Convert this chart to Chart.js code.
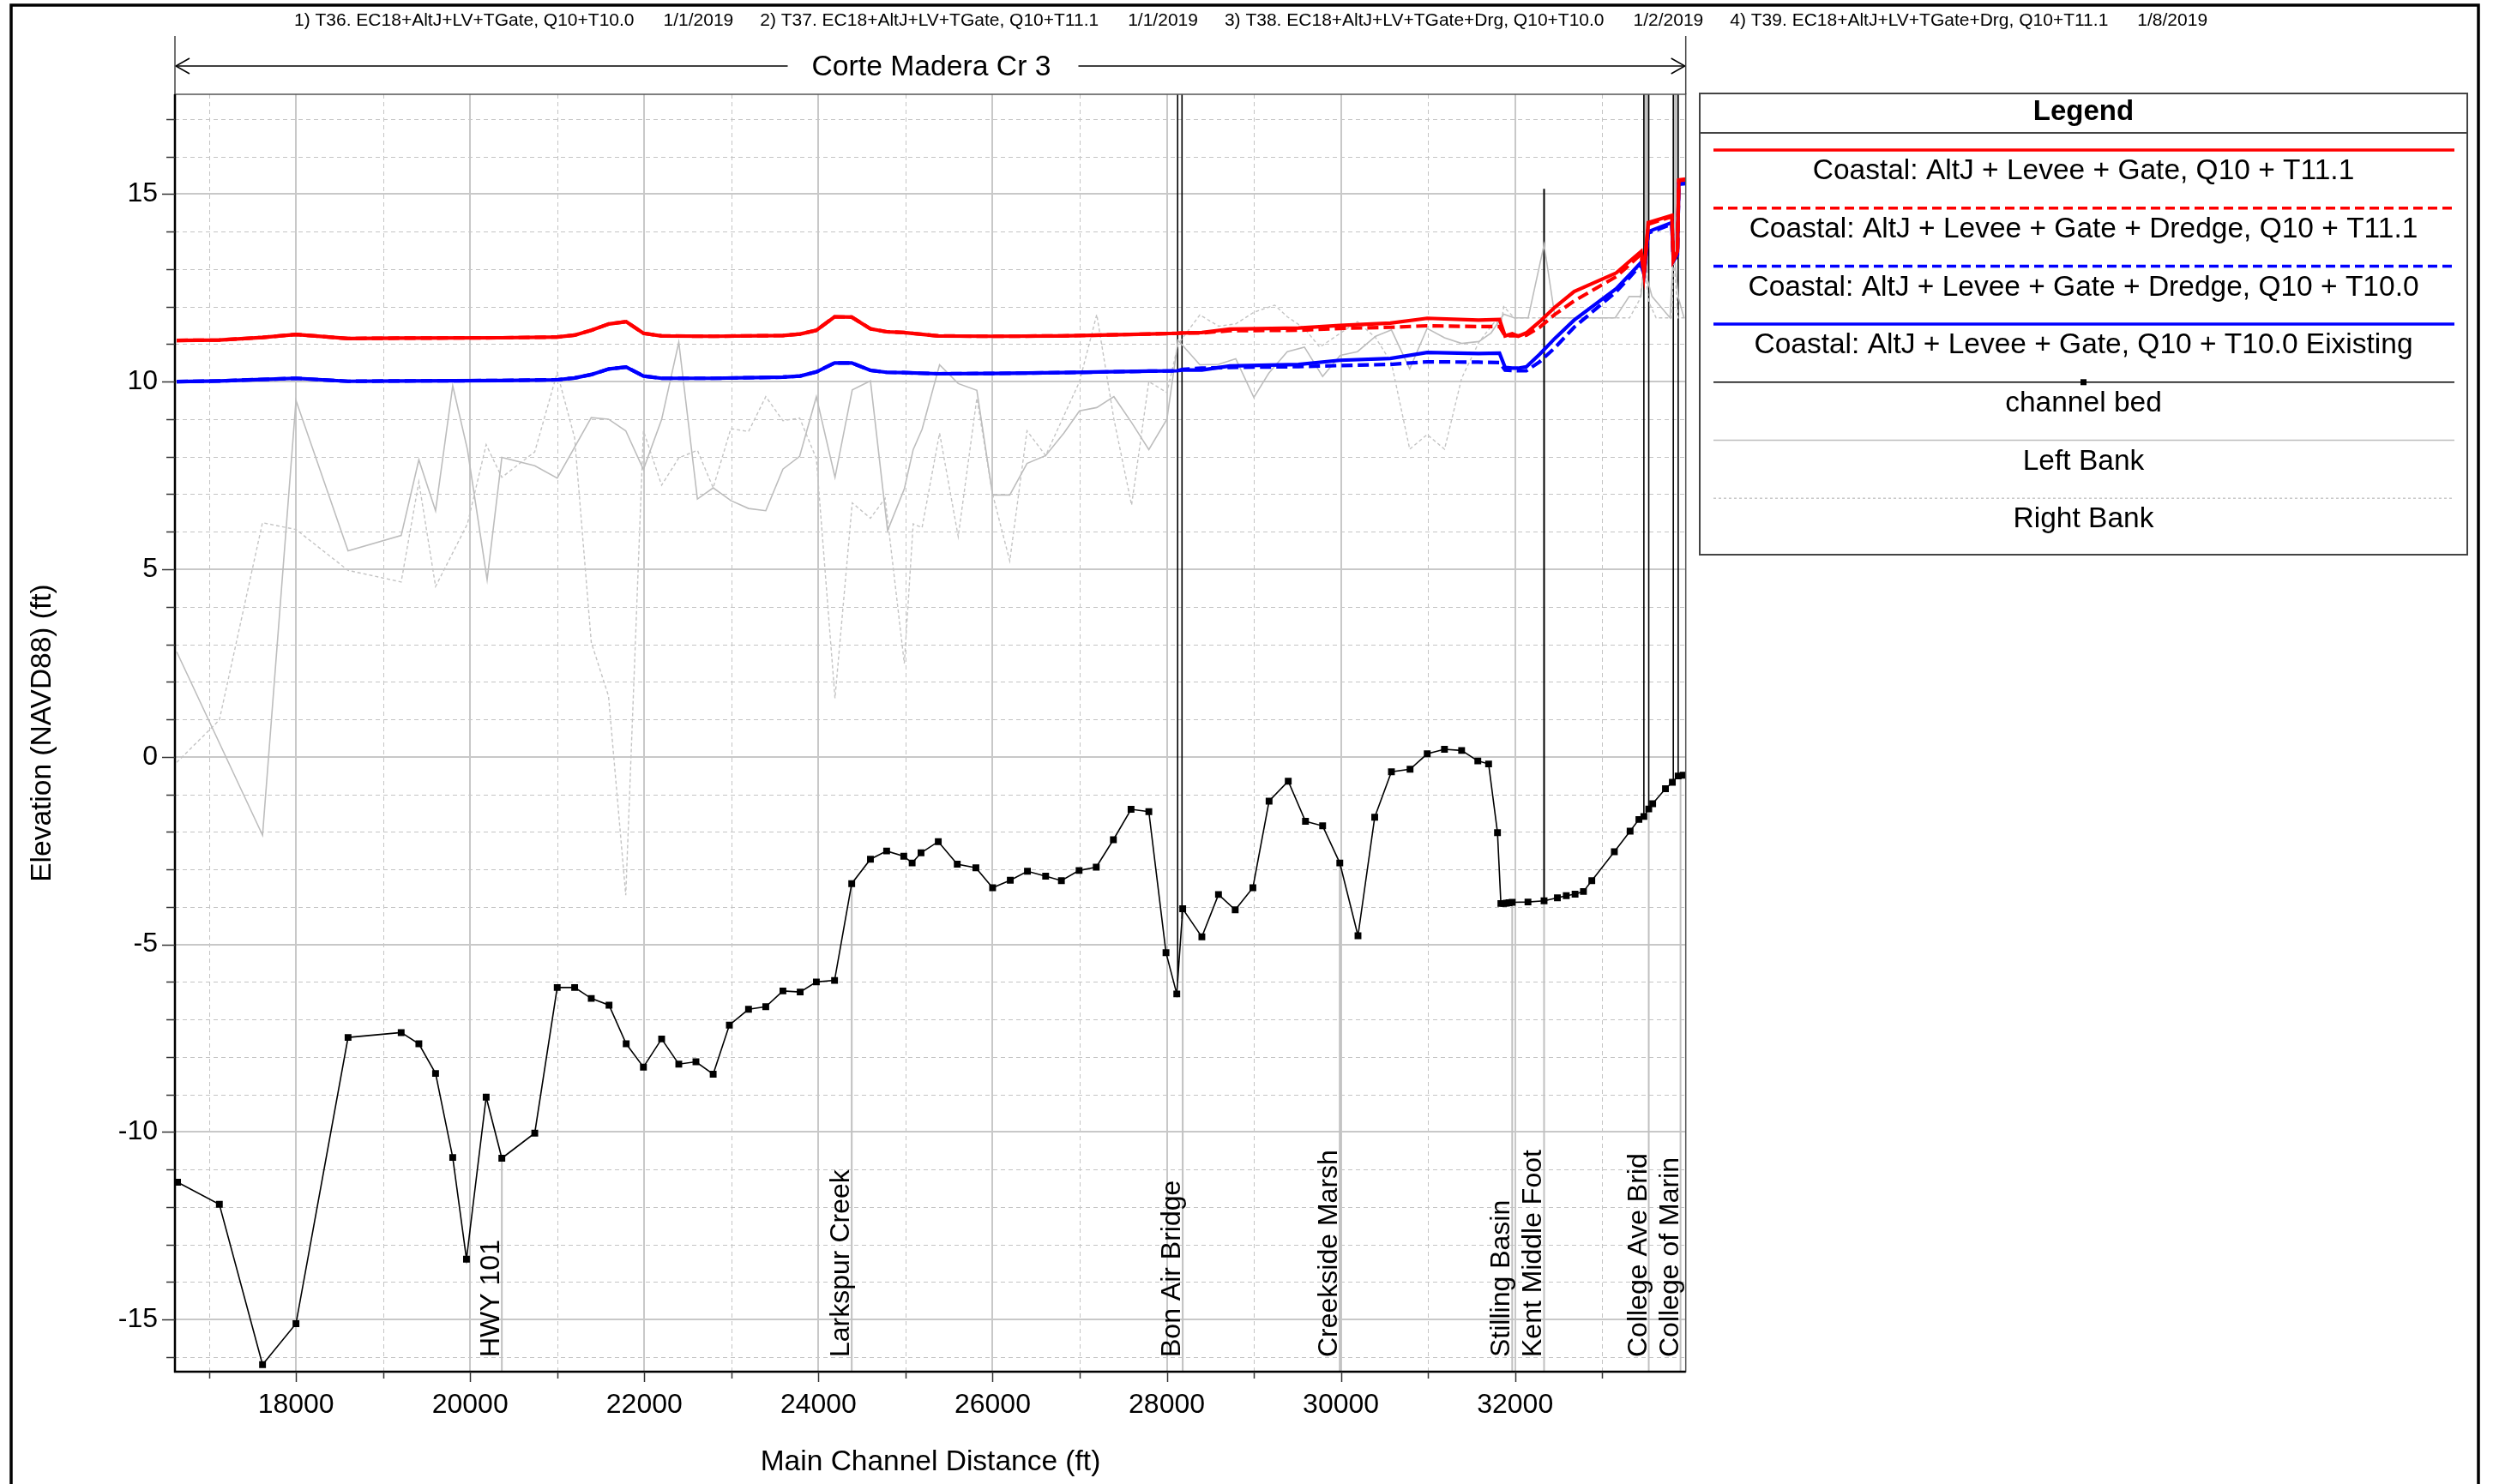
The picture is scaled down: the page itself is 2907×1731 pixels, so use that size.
<!DOCTYPE html>
<html>
<head>
<meta charset="utf-8">
<script src="https://cdn.jsdelivr.net/npm/chart.js@4.4.1/dist/chart.umd.min.js"></script>
<style>
  html, body { margin: 0; padding: 0; background: #ffffff; }
  #wrap { width: 2907px; height: 1731px; position: relative; }
</style>
</head>
<body>
<div id="wrap"><canvas id="profile" width="2907" height="1731"></canvas></div>
<script>
const FONT = '"Liberation Sans", Arial, Helvetica, sans-serif';

// ---- Water surface profiles (main channel distance in ft, elevation in ft NAVD88) ----
const wseStations = [16630, 17120, 17616, 18000, 18598, 19208, 20364, 21000, 21200, 21391,
  21595, 21792, 21990, 22199, 22791, 23592, 23790, 23976, 24185, 24382,
  24597, 24783, 24980, 25376, 26000, 26790, 27794, 28115, 28183, 28403,
  28724, 29512, 29987, 30567, 30991, 31580, 31821, 31885, 31967, 32035,
  32130, 32282, 32455, 32678, 33162, 33315, 33447, 33480, 33530, 33800,
  33818, 33865, 33880, 33960];
const wseT111 = [11.10, 11.11, 11.18, 11.26, 11.15, 11.16, 11.17, 11.19, 11.24, 11.37,
  11.54, 11.60, 11.29, 11.22, 11.21, 11.23, 11.27, 11.37, 11.73, 11.72,
  11.41, 11.33, 11.31, 11.22, 11.21, 11.22, 11.27, 11.29, 11.30, 11.31,
  11.40, 11.43, 11.50, 11.56, 11.69, 11.64, 11.66, 11.22, 11.28, 11.21,
  11.30, 11.60, 11.98, 12.40, 12.90, 13.21, 13.47, 12.88, 14.24, 14.43,
  13.24, 13.47, 15.38, 15.40];
const wseT111Dredge = [11.10, 11.11, 11.18, 11.26, 11.15, 11.16, 11.17, 11.19, 11.24, 11.37,
  11.54, 11.60, 11.29, 11.22, 11.21, 11.23, 11.27, 11.37, 11.73, 11.72,
  11.41, 11.33, 11.31, 11.22, 11.21, 11.22, 11.27, 11.29, 11.30, 11.30,
  11.36, 11.37, 11.42, 11.45, 11.49, 11.47, 11.47, 11.22, 11.23, 11.22,
  11.24, 11.45, 11.79, 12.15, 12.80, 13.12, 13.40, 12.88, 14.20, 14.40,
  13.24, 13.45, 15.36, 15.38];
const wseT100Dredge = [10.00, 10.02, 10.06, 10.09, 10.01, 10.02, 10.03, 10.05, 10.10, 10.19,
  10.34, 10.39, 10.15, 10.09, 10.09, 10.12, 10.15, 10.26, 10.50, 10.50,
  10.30, 10.25, 10.24, 10.21, 10.22, 10.24, 10.28, 10.29, 10.33, 10.36,
  10.38, 10.40, 10.43, 10.46, 10.53, 10.52, 10.51, 10.31, 10.30, 10.29,
  10.29, 10.53, 10.90, 11.45, 12.40, 12.78, 13.13, 12.86, 13.96, 14.20,
  13.22, 13.38, 15.26, 15.28];
const wseT100 = [10.00, 10.02, 10.06, 10.09, 10.01, 10.02, 10.03, 10.05, 10.10, 10.19,
  10.34, 10.39, 10.15, 10.09, 10.09, 10.12, 10.15, 10.26, 10.50, 10.50,
  10.30, 10.25, 10.24, 10.21, 10.22, 10.24, 10.28, 10.29, 10.31, 10.31,
  10.42, 10.46, 10.57, 10.62, 10.78, 10.75, 10.76, 10.38, 10.36, 10.36,
  10.40, 10.73, 11.15, 11.64, 12.48, 12.85, 13.18, 12.86, 14.00, 14.24,
  13.22, 13.40, 15.28, 15.30];

// ---- Channel bed (minimum channel elevation at each cross section) ----
const bedStations = [16640, 17120, 17616, 18000, 18598, 19208, 19411, 19603, 19800, 19958,
  20184, 20364, 20742, 21000, 21200, 21391, 21595, 21792, 21990, 22199,
  22396, 22593, 22791, 22977, 23197, 23395, 23592, 23790, 23976, 24185,
  24382, 24597, 24783, 24980, 25076, 25178, 25376, 25594, 25808, 26000,
  26203, 26400, 26609, 26790, 26993, 27190, 27387, 27590, 27794, 27991,
  28115, 28183, 28403, 28594, 28786, 28989, 29175, 29395, 29593, 29790,
  29987, 30196, 30388, 30580, 30794, 30991, 31189, 31386, 31572, 31696,
  31798, 31837, 31870, 31900, 31930, 31967, 32148, 32333, 32486, 32588,
  32689, 32785, 32881, 33140, 33321, 33422, 33479, 33535, 33580, 33727,
  33806, 33873, 33930];
const bedElev = [-11.34, -11.93, -16.20, -15.11, -7.48, -7.35, -7.65, -8.44, -10.68, -13.39,
  -9.07, -10.70, -10.03, -6.15, -6.15, -6.44, -6.62, -7.65, -8.27, -7.52,
  -8.19, -8.13, -8.46, -7.15, -6.73, -6.66, -6.24, -6.27, -6.00, -5.96,
  -3.38, -2.73, -2.51, -2.65, -2.83, -2.56, -2.26, -2.86, -2.96, -3.49,
  -3.29, -3.05, -3.18, -3.30, -3.03, -2.94, -2.21, -1.40, -1.46, -5.22,
  -6.32, -4.05, -4.80, -3.67, -4.08, -3.49, -1.18, -0.65, -1.72, -1.84,
  -2.83, -4.77, -1.61, -0.40, -0.33, 0.08, 0.20, 0.17, -0.11, -0.19,
  -2.02, -3.91, -3.91, -3.90, -3.89, -3.88, -3.87, -3.84, -3.76, -3.70,
  -3.66, -3.59, -3.30, -2.53, -1.98, -1.67, -1.59, -1.39, -1.25, -0.85,
  -0.68, -0.51, -0.49];

// ---- Bank stations ----
const leftBankStations = [16630, 17616, 18000, 18598, 19208, 19411, 19603, 19800, 19969, 20195,
  20364, 20742, 21000, 21391, 21589, 21787, 21990, 22199, 22396, 22610,
  22791, 22994, 23197, 23395, 23592, 23784, 23976, 24190, 24388, 24597,
  24794, 24986, 25088, 25190, 25391, 25605, 25819, 26000, 26197, 26395,
  26609, 26818, 26998, 27196, 27393, 27596, 27794, 28002, 28130, 28380,
  28594, 28792, 29000, 29170, 29384, 29581, 29790, 29993, 30190, 30399,
  30580, 30790, 30990, 31190, 31386, 31584, 31725, 31870, 31990, 32150,
  32333, 32460, 33000, 33150, 33310, 33445, 33479, 33573, 33780, 33822,
  33872, 33940];
const leftBankElev = [2.80, -2.09, 9.50, 5.49, 5.90, 7.92, 6.56, 9.89, 8.19, 4.72,
  7.98, 7.76, 7.43, 9.04, 9.00, 8.69, 7.66, 8.99, 11.05, 6.87,
  7.17, 6.83, 6.62, 6.56, 7.67, 8.01, 9.60, 7.45, 9.78, 10.02,
  6.03, 7.14, 8.19, 8.73, 10.45, 9.95, 9.77, 6.98, 6.98, 7.82,
  8.03, 8.63, 9.22, 9.31, 9.60, 8.91, 8.19, 9.00, 11.10, 10.45,
  10.46, 10.61, 9.58, 10.22, 10.80, 10.92, 10.14, 10.70, 10.80, 11.21,
  11.38, 10.34, 11.42, 11.17, 11.02, 11.07, 11.30, 11.80, 11.70, 11.70,
  13.65, 11.70, 11.70, 11.70, 12.27, 12.27, 13.07, 12.27, 11.70, 13.64,
  12.27, 11.70];
const rightBankStations = [16630, 17120, 17615, 18000, 18598, 19208, 19411, 19603, 19969, 20184,
  20364, 20742, 21000, 21200, 21391, 21589, 21787, 21990, 22199, 22396,
  22610, 22791, 22994, 23197, 23395, 23592, 23784, 23976, 24190, 24388,
  24597, 24766, 24986, 25088, 25190, 25391, 25605, 25819, 26000, 26197,
  26395, 26609, 26998, 27196, 27393, 27596, 27794, 28002, 28130, 28380,
  28594, 28792, 29000, 29240, 29384, 29581, 29757, 29993, 30190, 30399,
  30580, 30790, 30990, 31190, 31386, 31584, 31780, 31830, 31870, 31990,
  33000, 33315, 33435, 33479, 33540, 33620, 33800, 33822, 33870, 33950];
const rightBankElev = [-0.15, 0.98, 6.24, 6.06, 4.97, 4.66, 7.33, 4.54, 6.21, 8.32,
  7.45, 8.13, 10.24, 8.50, 3.05, 1.62, -3.69, 8.69, 7.24, 7.97,
  8.17, 7.17, 8.75, 8.67, 9.60, 8.96, 9.03, 7.95, 1.56, 6.77,
  6.36, 6.89, 2.49, 6.21, 6.11, 8.63, 5.87, 9.56, 7.00, 5.22,
  8.69, 8.03, 10.00, 11.79, 9.00, 6.71, 10.00, 9.71, 11.00, 11.78,
  11.48, 11.54, 11.85, 12.04, 11.73, 11.42, 10.92, 11.29, 11.60, 11.17,
  10.50, 8.20, 8.59, 8.20, 10.09, 11.05, 11.64, 11.40, 12.00, 11.70,
  11.70, 11.70, 12.21, 13.10, 12.10, 11.70, 11.70, 13.40, 11.70, 11.70];

// ---- Axis ticks ----
const xTicks = [18000, 20000, 22000, 24000, 26000, 28000, 30000, 32000];
const yTicks = [-15, -10, -5, 0, 5, 10, 15];

// ---- Named locations along the reach ----
const locationNames = ['HWY 101', 'Larkspur Creek', 'Bon Air Bridge', 'Creekside Marsh',
  'Stilling Basin', 'Kent Middle Foot', 'College Ave Brid', 'College of Marin'];
const locationStations = [20364, 24382, 28183, 29987, 31967, 32333, 33535, 33900];

// ---- Structures: deck edges (ft) and low chord elevation (ft) ----
const bridgeNames = ['Bon Air Bridge', 'College Ave Brid', 'College of Marin'];
const bridgeUpstreamEdge = [28125, 33479, 33817];
const bridgeDownstreamEdge = [28175, 33535, 33873];
const bridgeLowChord = [null, 12.9, 13.25];
const footbridgeStation = 32333;
const footbridgeTop = 15.14;

// ---- Plan runs listed across the top ----
const planRuns = ['1) T36. EC18+AltJ+LV+TGate, Q10+T10.0', '2) T37. EC18+AltJ+LV+TGate, Q10+T11.1',
  '3) T38. EC18+AltJ+LV+TGate+Drg, Q10+T10.0', '4) T39. EC18+AltJ+LV+TGate+Drg, Q10+T11.1'];
const planDates = ['1/1/2019', '1/1/2019', '1/2/2019', '1/8/2019'];

const reachName = 'Corte Madera Cr 3';

function pairs(xs, ys) { return xs.map((x, i) => ({ x: x, y: ys[i] })); }

function bedAt(x) {
  if (x <= bedStations[0]) return bedElev[0];
  for (let i = 1; i < bedStations.length; i++) {
    if (x <= bedStations[i]) {
      const t = (x - bedStations[i - 1]) / (bedStations[i] - bedStations[i - 1]);
      return bedElev[i - 1] + t * (bedElev[i] - bedElev[i - 1]);
    }
  }
  return bedElev[bedElev.length - 1];
}

function seg(ctx, x1, y1, x2, y2) { ctx.beginPath(); ctx.moveTo(x1, y1); ctx.lineTo(x2, y2); ctx.stroke(); }

const profileDecor = {
  id: 'profileDecor',
  beforeDatasetsDraw(chart) {
    const { ctx, chartArea: a, scales: { x, y } } = chart;
    ctx.save();
    // minor grid (dashed)
    ctx.strokeStyle = '#c4c4c4';
    ctx.lineWidth = 1;
    ctx.setLineDash([5, 4]);
    for (let v = Math.ceil(y.min); v <= y.max; v++) {
      if (v % 5 === 0) continue;
      const py = Math.round(y.getPixelForValue(v)) + 0.5;
      seg(ctx, a.left, py, a.right, py);
    }
    for (let v = Math.ceil(x.min / 1000) * 1000; v <= x.max; v += 1000) {
      if (v % 2000 === 0) continue;
      const pxv = Math.round(x.getPixelForValue(v)) + 0.5;
      seg(ctx, pxv, a.top, pxv, a.bottom);
    }
    // major grid (solid)
    ctx.setLineDash([]);
    ctx.strokeStyle = '#c8c8c8';
    ctx.lineWidth = 2;
    yTicks.forEach(v => { const py = Math.round(y.getPixelForValue(v)); seg(ctx, a.left, py, a.right, py); });
    xTicks.forEach(v => { const pxv = Math.round(x.getPixelForValue(v)); seg(ctx, pxv, a.top, pxv, a.bottom); });

    ctx.save();
    ctx.beginPath(); ctx.rect(a.left, a.top, a.right - a.left, a.bottom - a.top); ctx.clip();
    // location lines from bed down to the axis
    ctx.strokeStyle = '#c0c0c0';
    ctx.lineWidth = 2;
    locationStations.forEach(s => {
      const pxv = x.getPixelForValue(s);
      seg(ctx, pxv, y.getPixelForValue(bedAt(s)), pxv, a.bottom);
    });
    // bridge decks and abutment lines
    for (let i = 0; i < bridgeNames.length; i++) {
      const x1 = x.getPixelForValue(bridgeUpstreamEdge[i]);
      const x2 = x.getPixelForValue(bridgeDownstreamEdge[i]);
      if (bridgeLowChord[i] !== null) {
        ctx.fillStyle = '#c0c0c0';
        const yl = y.getPixelForValue(bridgeLowChord[i]);
        ctx.fillRect(x1, a.top, x2 - x1, yl - a.top);
      }
      ctx.strokeStyle = '#000000';
      ctx.lineWidth = 1.6;
      seg(ctx, x1, a.top, x1, y.getPixelForValue(bedAt(bridgeUpstreamEdge[i])));
      seg(ctx, x2, a.top, x2, y.getPixelForValue(bedAt(bridgeDownstreamEdge[i])));
    }
    // footbridge
    ctx.strokeStyle = '#000000';
    ctx.lineWidth = 2;
    const fx = x.getPixelForValue(footbridgeStation);
    seg(ctx, fx, y.getPixelForValue(footbridgeTop), fx, y.getPixelForValue(bedAt(footbridgeStation)));
    ctx.restore();
    ctx.restore();
  },
  afterDatasetsDraw(chart) {
    const { ctx, chartArea: a, scales: { x, y } } = chart;
    ctx.save();
    // plot frame
    ctx.strokeStyle = '#555555';
    ctx.lineWidth = 1.5;
    ctx.strokeRect(a.left, a.top, a.right - a.left, a.bottom - a.top);
    ctx.strokeStyle = '#000000';
    ctx.lineWidth = 2.5;
    seg(ctx, a.left, a.top, a.left, a.bottom + 1);
    seg(ctx, a.left - 1, a.bottom, a.right, a.bottom);

    // tick marks
    ctx.strokeStyle = '#333333';
    ctx.lineWidth = 1.5;
    for (let v = Math.ceil(y.min); v <= y.max; v++) {
      const py = Math.round(y.getPixelForValue(v)) + 0.5;
      seg(ctx, a.left - (v % 5 === 0 ? 15 : 10), py, a.left, py);
    }
    for (let v = Math.ceil(x.min / 1000) * 1000; v <= x.max; v += 1000) {
      const pxv = Math.round(x.getPixelForValue(v)) + 0.5;
      seg(ctx, pxv, a.bottom, pxv, a.bottom + (v % 2000 === 0 ? 12 : 8));
    }

    // tick labels
    ctx.fillStyle = '#000000';
    ctx.font = '32px ' + FONT;
    ctx.textAlign = 'right';
    ctx.textBaseline = 'middle';
    yTicks.forEach(v => ctx.fillText(String(v), a.left - 20, y.getPixelForValue(v)));
    ctx.textAlign = 'center';
    xTicks.forEach(v => ctx.fillText(String(v), x.getPixelForValue(v), a.bottom + 39));

    // axis titles
    ctx.font = '33.5px ' + FONT;
    ctx.fillText('Main Channel Distance (ft)', 1085, 1706);
    ctx.save();
    ctx.translate(50, (a.top + a.bottom) / 2);
    ctx.rotate(-Math.PI / 2);
    ctx.fillText('Elevation (NAVD88) (ft)', 0, 0);
    ctx.restore();

    // location labels
    ctx.font = '32px ' + FONT;
    ctx.textAlign = 'left';
    ctx.textBaseline = 'alphabetic';
    locationNames.forEach((name, i) => {
      ctx.save();
      ctx.translate(x.getPixelForValue(locationStations[i]) - 3, a.bottom - 17);
      ctx.rotate(-Math.PI / 2);
      ctx.fillText(name, 0, 0);
      ctx.restore();
    });
    ctx.restore();
  },
  afterDraw(chart) {
    const { ctx, chartArea: a } = chart;
    ctx.save();
    // plan run header
    ctx.fillStyle = '#000000';
    ctx.font = '21px ' + FONT;
    ctx.textAlign = 'left';
    ctx.textBaseline = 'middle';
    let cx = 343;
    planRuns.forEach((run, i) => {
      ctx.fillText(run, cx, 24);
      cx += ctx.measureText(run).width + 34;
      ctx.fillText(planDates[i], cx, 24);
      cx += ctx.measureText(planDates[i]).width + 31;
    });

    // reach bracket
    ctx.font = '33.7px ' + FONT;
    ctx.textAlign = 'center';
    const tw = ctx.measureText(reachName).width;
    const tc = 1086;
    ctx.fillText(reachName, tc, 79);
    ctx.strokeStyle = '#000000';
    ctx.lineWidth = 1.5;
    const ay = 77;
    seg(ctx, a.left + 1, ay, tc - tw / 2 - 28, ay);
    seg(ctx, tc + tw / 2 + 32, ay, a.right - 1, ay);
    ctx.beginPath();
    ctx.moveTo(a.left + 17, ay - 9); ctx.lineTo(a.left + 1, ay); ctx.lineTo(a.left + 17, ay + 9);
    ctx.moveTo(a.right - 17, ay - 9); ctx.lineTo(a.right - 1, ay); ctx.lineTo(a.right - 17, ay + 9);
    ctx.stroke();
    ctx.strokeStyle = '#444444';
    seg(ctx, a.left, 42, a.left, a.top);
    seg(ctx, a.right, 42, a.right, a.top);

    // legend box
    const lx = 1982, ly = 109, lw = 895, lh = 538;
    ctx.fillStyle = '#ffffff';
    ctx.fillRect(lx, ly, lw, lh);
    ctx.strokeStyle = '#444444';
    ctx.lineWidth = 2;
    ctx.strokeRect(lx, ly, lw, lh);
    seg(ctx, lx, 155, lx + lw, 155);
    ctx.fillStyle = '#000000';
    ctx.font = 'bold 33px ' + FONT;
    ctx.textAlign = 'center';
    ctx.fillText('Legend', lx + lw / 2, 131);
    ctx.font = '33.5px ' + FONT;
    chart.data.datasets.forEach((ds, i) => {
      const yLine = 175 + i * 67.7;
      ctx.save();
      ctx.strokeStyle = ds.borderColor;
      ctx.lineWidth = Math.min(ds.borderWidth, 3.5);
      ctx.setLineDash(ds.legendDash || ds.borderDash || []);
      seg(ctx, 1998, yLine, 2862, yLine);
      ctx.restore();
      if (ds.pointRadius > 0) {
        ctx.fillStyle = ds.borderColor;
        ctx.fillRect(lx + lw / 2 - 3.5, yLine - 3.5, 7, 7);
      }
      ctx.fillStyle = '#000000';
      ctx.fillText(ds.label, lx + lw / 2, yLine + 25);
    });

    // outer frame
    ctx.strokeStyle = '#000000';
    ctx.lineWidth = 3.5;
    ctx.strokeRect(13, 6, 2877, 1760);
    ctx.restore();
  }
};

const lineBase = { type: 'line', fill: false, tension: 0, pointRadius: 0, pointHoverRadius: 0 };

new Chart(document.getElementById('profile'), {
  type: 'line',
  data: {
    datasets: [
      Object.assign({}, lineBase, { label: 'Coastal: AltJ + Levee + Gate, Q10 + T11.1', data: pairs(wseStations, wseT111),
        borderColor: '#ff0000', borderWidth: 4.2, order: 1 }),
      Object.assign({}, lineBase, { label: 'Coastal: AltJ + Levee + Gate + Dredge, Q10 + T11.1', data: pairs(wseStations, wseT111Dredge),
        borderColor: '#ff0000', borderWidth: 4.2, borderDash: [13, 6], legendDash: [11, 6], order: 2 }),
      Object.assign({}, lineBase, { label: 'Coastal: AltJ + Levee + Gate + Dredge, Q10 + T10.0', data: pairs(wseStations, wseT100Dredge),
        borderColor: '#0000ff', borderWidth: 4.2, borderDash: [13, 6], legendDash: [11, 6], order: 3 }),
      Object.assign({}, lineBase, { label: 'Coastal: AltJ + Levee + Gate, Q10 + T10.0 Eixisting', data: pairs(wseStations, wseT100),
        borderColor: '#0000ff', borderWidth: 4.2, order: 4 }),
      Object.assign({}, lineBase, { label: 'channel bed', data: pairs(bedStations, bedElev),
        borderColor: '#000000', borderWidth: 1.6, pointRadius: 5.6, pointStyle: 'rect',
        pointBackgroundColor: '#000000', pointBorderWidth: 0, order: 5 }),
      Object.assign({}, lineBase, { label: 'Left Bank', data: pairs(leftBankStations, leftBankElev),
        borderColor: '#bdbdbd', borderWidth: 1.6, order: 6 }),
      Object.assign({}, lineBase, { label: 'Right Bank', data: pairs(rightBankStations, rightBankElev),
        borderColor: '#c4c4c4', borderWidth: 1.4, borderDash: [4, 3], legendDash: [3, 3], order: 7 })
    ]
  },
  options: {
    responsive: false,
    devicePixelRatio: 1,
    animation: false,
    events: [],
    layout: { padding: { left: 204, top: 110, right: 941.3, bottom: 131 } },
    scales: {
      x: { type: 'linear', min: 16610, max: 33960, display: false },
      y: { type: 'linear', min: -16.39, max: 17.66, display: false }
    },
    plugins: { legend: { display: false }, tooltip: { enabled: false }, title: { display: false } }
  },
  plugins: [profileDecor]
});
</script>
</body>
</html>
